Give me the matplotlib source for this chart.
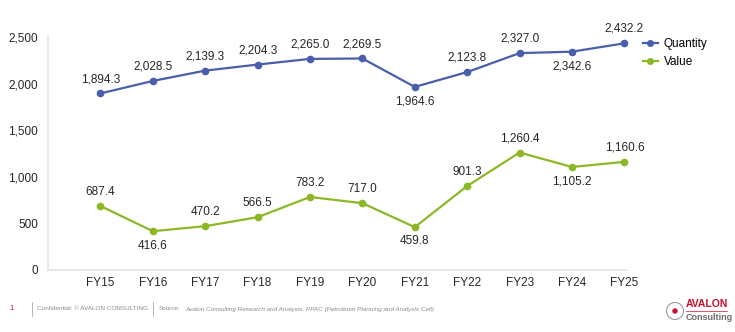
import matplotlib.pyplot as plt
from matplotlib.patches import Ellipse

plt.rcParams['font.family'] = ['Liberation Sans', 'DejaVu Sans']

years = ["FY15", "FY16", "FY17", "FY18", "FY19", "FY20", "FY21", "FY22", "FY23", "FY24", "FY25"]
quantity = [1894.3, 2028.5, 2139.3, 2204.3, 2265.0, 2269.5, 1964.6, 2123.8, 2327.0, 2342.6, 2432.2]
value = [687.4, 416.6, 470.2, 566.5, 783.2, 717.0, 459.8, 901.3, 1260.4, 1105.2, 1160.6]

# label above (+1) or below (-1) each point
quantity_side = [1, 1, 1, 1, 1, 1, -1, 1, 1, -1, 1]
value_side = [1, -1, 1, 1, 1, 1, -1, 1, 1, -1, 1]

blue = "#4a5fab"
green = "#8cb825"

W, H = 735, 332


def fx(px):
    return px / W


def fy(py):
    return 1 - py / H


fig = plt.figure(figsize=(W / 100, H / 100), dpi=100)
ax = fig.add_axes([fx(48), 62 / H, 579 / W, 233 / H])

x = list(range(len(years)))
ax.plot(x, quantity, color=blue, lw=1.6, marker="o", ms=4.5, label="Quantity", clip_on=False)
ax.plot(x, value, color=green, lw=1.6, marker="o", ms=4.5, label="Value", clip_on=False)

for series, sides in ((quantity, quantity_side), (value, value_side)):
    for i, (v, s) in enumerate(zip(series, sides)):
        ax.annotate("{:,.1f}".format(v), xy=(i, v), xytext=(0, 6 if s > 0 else -6),
                    textcoords="offset points", ha="center",
                    va="bottom" if s > 0 else "top", fontsize=8.5, color="#262626")

ax.set_xlim(-1, 10.05)
ax.set_ylim(0, 2500)
ax.set_yticks(range(0, 2501, 500))
ax.set_yticklabels(["{:,}".format(t) for t in range(0, 2501, 500)])
ax.set_xticks(x)
ax.set_xticklabels(years)
ax.tick_params(length=0, labelsize=8.5, colors="#262626")
ax.tick_params(axis="y", pad=7)
ax.tick_params(axis="x", pad=5)
for side in ("top", "right"):
    ax.spines[side].set_visible(False)
for side in ("left", "bottom"):
    ax.spines[side].set_color("#e3e3e3")
    ax.spines[side].set_linewidth(1.2)

ax.legend(loc="upper left", bbox_to_anchor=(1.01, 1.04), frameon=False, fontsize=8.5,
          handlelength=1.2, markerscale=0.9, labelspacing=0.5, handletextpad=0.5)

# footer
fig.text(fx(9), fy(309), "1", color="#c8102e", fontsize=5.5, va="center")
fig.add_artist(plt.Line2D([fx(32), fx(32)], [fy(302), fy(316)], color="#aaaaaa", lw=0.6))
fig.text(fx(37), fy(309), "Confidential: \u00a9 AVALON CONSULTING", color="#8a8a8a",
         fontsize=4.6, va="center")
fig.add_artist(plt.Line2D([fx(153), fx(153)], [fy(302), fy(316)], color="#aaaaaa", lw=0.6))
fig.text(fx(159), fy(309), "Source:", color="#8a8a8a", fontsize=4.6, va="center")
fig.text(fx(185), fy(309),
         "Avalon Consulting Research and Analysis, PPAC (Petroleum Planning and Analysis Cell)",
         color="#8a8a8a", fontsize=4.6, va="center", style="italic")

# logo
fig.add_artist(Ellipse((fx(675), fy(311)), 17 / W, 17 / H, transform=fig.transFigure,
                       fill=False, ec="#9a9a9a", lw=0.8))
fig.add_artist(Ellipse((fx(675), fy(311)), 4 / W, 4 / H, transform=fig.transFigure,
                       color="#c8102e"))
fig.text(fx(686), fy(304), "AVALON", color="#c8102e", fontsize=7.5, fontweight="bold",
         va="center")
fig.add_artist(plt.Line2D([fx(686), fx(727)], [fy(311), fy(311)], color="#c8102e", lw=0.5))
fig.text(fx(686), fy(318), "Consulting", color="#6e6e6e", fontsize=6.5, fontweight="bold",
         va="center")

fig.savefig("out.png", dpi=100)
